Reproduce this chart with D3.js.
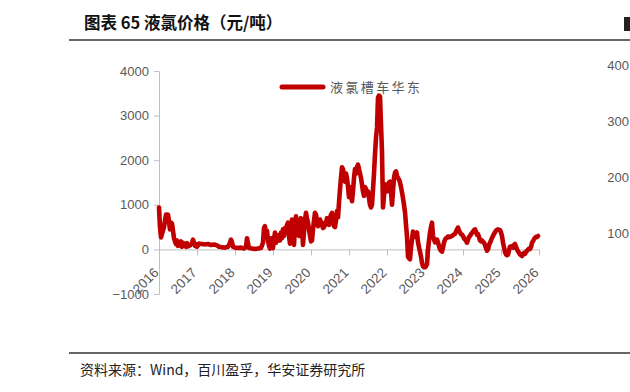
<!DOCTYPE html>
<html><head><meta charset="utf-8">
<script src="https://cdn.jsdelivr.net/npm/d3@7/dist/d3.min.js"></script>
<style>
html,body{margin:0;padding:0;background:#fff;}
svg{display:block;}
</style></head>
<body>
<svg id="c" width="630" height="392"></svg>
<script>
// ---- data (decimal year, price in yuan/ton) ----
const dates = [
2016.000,2016.026,2016.053,2016.079,2016.132,2016.158,2016.184,2016.211,2016.237,2016.263,2016.289,2016.316,2016.342,2016.368,2016.395,2016.421,2016.447,2016.474,2016.500,2016.526,2016.553,2016.579,2016.605,2016.632,2016.658,2016.711,2016.737,2016.763,2016.816,2016.868,2016.895,2016.921,2016.947,2016.974,
2017.000,2017.053,2017.132,2017.211,2017.289,2017.368,2017.447,2017.526,2017.579,2017.658,2017.737,2017.816,2017.868,2017.895,2017.921,2017.947,
2018.000,2018.079,2018.158,2018.237,2018.289,2018.316,2018.342,2018.368,2018.447,2018.526,2018.605,2018.684,2018.737,2018.763,2018.789,2018.816,2018.842,2018.868,2018.895,2018.921,2018.947,2018.974,
2019.000,2019.026,2019.053,2019.079,2019.105,2019.132,2019.158,2019.184,2019.211,2019.237,2019.263,2019.289,2019.316,2019.342,2019.368,2019.395,2019.421,2019.447,2019.474,2019.500,2019.526,2019.553,2019.579,2019.605,2019.632,2019.658,2019.684,2019.711,2019.737,2019.763,2019.789,2019.816,2019.842,2019.868,2019.895,2019.921,2019.947,2019.974,
2020.000,2020.026,2020.053,2020.079,2020.105,2020.132,2020.158,2020.184,2020.211,2020.237,2020.263,2020.289,2020.316,2020.342,2020.368,2020.395,2020.421,2020.447,2020.474,2020.500,2020.526,2020.553,2020.579,2020.605,2020.632,2020.658,2020.684,2020.711,2020.737,2020.763,2020.789,2020.816,2020.842,2020.868,2020.895,2020.921,2020.947,2020.974,
2021.000,2021.026,2021.053,2021.079,2021.105,2021.132,2021.158,2021.184,2021.211,2021.237,2021.263,2021.289,2021.316,2021.342,2021.368,2021.395,2021.421,2021.447,2021.474,2021.500,2021.526,2021.553,2021.579,2021.605,2021.632,2021.658,2021.684,2021.711,2021.737,2021.763,2021.789,2021.816,2021.842,2021.868,2021.895,2021.921,2021.947,2021.974,
2022.000,2022.026,2022.053,2022.079,2022.105,2022.132,2022.158,2022.184,2022.211,2022.237,2022.263,2022.289,2022.316,2022.342,2022.368,2022.395,2022.421,2022.447,2022.474,2022.500,2022.526,2022.553,2022.579,2022.605,2022.632,2022.658,2022.684,2022.711,2022.737,2022.763,2022.789,2022.816,2022.842,2022.868,2022.895,2022.921,2022.947,2022.974,
2023.000,2023.026,2023.053,2023.079,2023.105,2023.132,2023.158,2023.184,2023.211,2023.237,2023.263,2023.289,2023.316,2023.342,2023.368,2023.395,2023.421,2023.447,2023.474,2023.500,2023.526,2023.553,2023.579,2023.605,2023.658,2023.711,2023.737,2023.789,2023.842,2023.868,2023.895,2023.921,2023.947,2023.974,
2024.000,2024.026,2024.053,2024.079,2024.105,2024.132,2024.158,2024.184,2024.211,2024.237,2024.263,2024.289,2024.316,2024.342,2024.368,2024.395,2024.421,2024.447,2024.474,2024.500,2024.526,2024.553,2024.579,2024.605,2024.632,2024.658,2024.684,2024.711,2024.737,2024.763,2024.789,2024.816,2024.842,2024.868,2024.895,2024.921,2024.947,2024.974,
2025.000,2025.026,2025.053,2025.079,2025.105,2025.132,2025.158,2025.184,2025.211,2025.237,2025.263,2025.289,2025.316,2025.342,2025.368,2025.395,2025.421,2025.447,2025.474,2025.500,2025.526,2025.553,2025.579,2025.605,2025.632,2025.658,2025.684,2025.711,2025.737,2025.763,2025.789,2025.816,2025.842,2025.868,2025.895,2025.921,2025.947,2025.974
];
const prices = [
940,500,270,350,500,650,780,700,780,620,450,600,580,420,250,180,120,200,80,160,90,180,60,150,100,60,140,70,90,140,220,150,80,120,
60,130,120,110,120,100,110,90,60,50,40,60,150,220,160,60,
40,30,40,20,60,250,140,30,20,10,20,30,150,480,520,300,420,200,80,20,250,80,
30,220,380,150,300,200,320,200,380,250,450,300,480,400,550,600,300,130,450,670,400,100,500,740,600,450,300,550,700,500,100,400,650,820,700,600,450,300,
180,200,450,650,820,780,600,520,580,670,600,550,480,500,600,560,700,620,550,700,780,820,600,520,500,650,860,720,1050,1350,1600,1840,1800,1600,1520,1700,1600,1400,
1170,1400,1250,1080,1300,1600,1800,1700,1850,1900,1800,1700,1600,1460,1300,1200,1400,1350,1250,1300,1150,1000,940,1000,1350,1700,2130,2500,2730,3400,3450,3430,2800,2200,940,1200,1460,1350,
1300,1400,1500,1520,1300,1000,1300,1600,1720,1750,1650,1600,1570,1500,1400,1280,1150,1000,830,550,290,-160,-200,-220,50,220,400,350,280,300,380,160,50,-50,-160,-300,-380,-400,
-400,-380,-330,0,200,380,500,600,300,220,160,200,220,160,80,0,-30,-50,50,150,220,250,260,290,280,300,320,350,450,490,420,380,340,330,
300,250,220,200,150,220,280,300,340,370,400,430,450,400,330,340,280,200,180,200,170,150,100,30,-30,0,100,150,200,260,300,350,380,420,440,450,440,430,
380,300,150,50,-60,-110,-130,-120,-20,60,70,60,40,100,120,60,0,-40,-80,-110,-130,-150,-100,-80,-100,-60,-30,-10,20,10,50,150,180,230,260,280,280,300
];
const yTicks = [-1000, 0, 1000, 2000, 3000, 4000];
const xTicks = [2016,2017,2018,2019,2020,2021,2022,2023,2024,2025,2026];
const seriesName = "液氯槽车华东";
const titleText = "图表 65 液氯价格（元/吨）";
const sourceText = "资料来源：Wind，百川盈孚，华安证券研究所";
const neighbourTicks = ["400","300","200","100"];

const svg = d3.select("#c");
const x = d3.scaleLinear().domain([2016, 2026]).range([159, 539]);
const y = d3.scaleLinear().domain([-1000, 4000]).range([294, 71]);
const grey = "#595959", axisCol = "#bfbfbf";
const sans = "'Liberation Sans', Arial, sans-serif";
const cjk = "'Noto Sans CJK SC', sans-serif";

// title + rules
svg.append("text").attr("x", 84).attr("y", 29).attr("font-family", cjk)
  .attr("font-weight", "bold").attr("font-size", 16.5).attr("fill", "#111").text(titleText);
svg.append("rect").attr("x", 624).attr("y", 17).attr("width", 6).attr("height", 14).attr("fill", "#222");
svg.append("line").attr("x1", 69).attr("x2", 630).attr("y1", 40).attr("y2", 40)
  .attr("stroke", "#333").attr("stroke-width", 1.3);
svg.append("line").attr("x1", 69).attr("x2", 630).attr("y1", 353).attr("y2", 353)
  .attr("stroke", "#333").attr("stroke-width", 1.3);
svg.append("text").attr("x", 80).attr("y", 375).attr("font-family", cjk)
  .attr("font-size", 14).attr("fill", "#222").text(sourceText);

// neighbouring chart's axis labels (cut at the page edge in the original)
const ny = d3.scaleLinear().domain([0, 3]).range([65, 233]);
svg.selectAll("text.nb").data(neighbourTicks).join("text").attr("class", "nb")
  .attr("x", 629).attr("y", (d, i) => ny(i)).attr("dy", "0.35em").attr("text-anchor", "end")
  .attr("font-family", sans).attr("font-size", 13).attr("fill", grey).text(d => d);

// y axis
const yAxis = svg.append("g").attr("transform", "translate(159,0)")
  .call(d3.axisLeft(y).tickValues(yTicks).tickSize(5).tickPadding(5).tickFormat(d3.format("d")));
yAxis.select(".domain").attr("stroke", axisCol);
yAxis.selectAll(".tick line").attr("stroke", axisCol);
yAxis.selectAll("text").attr("font-family", sans).attr("font-size", 13).attr("fill", grey)
  .text(d => d < 0 ? "\u2212" + Math.abs(d) : d);

// x axis at zero
const xAxis = svg.append("g").attr("transform", `translate(0,${y(0)})`)
  .call(d3.axisBottom(x).tickValues(xTicks).tickSize(6).tickFormat(d3.format("d")));
xAxis.select(".domain").attr("stroke", axisCol);
xAxis.selectAll(".tick line").attr("stroke", axisCol);
xAxis.selectAll("text").attr("font-family", sans).attr("font-size", 13.5).attr("fill", grey)
  .attr("text-anchor", "end").attr("y", 0).attr("dy", 0)
  .attr("transform", "translate(0,24) rotate(-45)");

// line
const pts = dates.map((d, i) => [d, prices[i]]);
svg.append("path").datum(pts)
  .attr("fill", "none").attr("stroke", "#c00000").attr("stroke-width", 4.6)
  .attr("stroke-linejoin", "round").attr("stroke-linecap", "round")
  .attr("d", d3.line().x(d => x(d[0])).y(d => y(d[1])));

// legend
svg.append("line").attr("x1", 282).attr("x2", 323).attr("y1", 87).attr("y2", 87)
  .attr("stroke", "#c00000").attr("stroke-width", 5).attr("stroke-linecap", "round");
svg.append("text").attr("x", 330).attr("y", 87).attr("dy", "0.35em")
  .attr("font-family", cjk).attr("font-size", 13).attr("letter-spacing", 2.4)
  .attr("fill", grey).text(seriesName);
</script>
</body></html>
